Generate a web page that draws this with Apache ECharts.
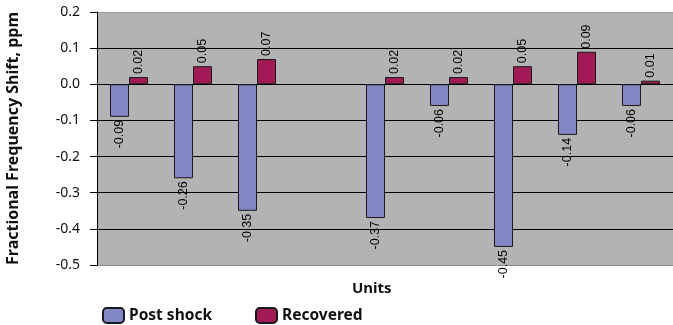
<!DOCTYPE html>
<html>
<head>
<meta charset="utf-8">
<script src="https://cdn.jsdelivr.net/npm/echarts@6/dist/echarts.min.js"></script>
<style>
  html, body { margin: 0; padding: 0; background: #fff; }
  #chart { width: 673px; height: 325px; }
</style>
</head>
<body>
<div id="chart"></div>
<script>
// Units under test (slot 4 is an empty position)
const units = ['1', '2', '3', '4', '5', '6', '7', '8', '9'];
// Fractional frequency shift, ppm
const postShock = [-0.09, -0.26, -0.35, null, -0.37, -0.06, -0.45, -0.14, -0.06];
const recovered = [0.02, 0.05, 0.07, null, 0.02, 0.02, 0.05, 0.09, 0.01];
const yTicks = { min: -0.5, max: 0.2, step: 0.1 };

const labelFont = { fontFamily: 'Liberation Sans', fontSize: 12.5, color: '#000' };

function withLabels(values) {
  return values.map(v => {
    if (v === null) return null;
    const up = v >= 0;
    return {
      value: v,
      label: Object.assign({
        show: true,
        position: up ? 'top' : 'bottom',
        rotate: 90,
        align: up ? 'left' : 'right',
        verticalAlign: 'middle',
        distance: 3,
        formatter: p => p.value.toFixed(2)
      }, labelFont)
    };
  });
}

const chart = echarts.init(document.getElementById('chart'));
chart.setOption({
  animation: false,
  textStyle: { fontFamily: 'Noto Sans' },
  grid: {
    left: 97, right: 0, top: 12, bottom: 60,
    outerBoundsMode: 'none',
    containLabel: false,
    show: true, backgroundColor: '#b3b3b3', borderWidth: 0
  },
  legend: {
    left: 97, top: 302,
    itemWidth: 21, itemHeight: 15, itemGap: 43,
    textStyle: { fontFamily: 'Noto Sans', fontWeight: 'bold', fontSize: 15.5, color: '#111' },
    data: ['Post shock', 'Recovered']
  },
  xAxis: {
    type: 'category',
    data: units,
    axisLine: { show: false },
    axisTick: { show: false },
    axisLabel: { show: false },
    splitLine: { show: false }
  },
  yAxis: {
    type: 'value',
    min: yTicks.min, max: yTicks.max, interval: yTicks.step,
    name: 'Fractional Frequency Shift, ppm',
    nameLocation: 'middle',
    nameGap: 76,
    nameTextStyle: { fontFamily: 'Noto Sans', fontWeight: 'bold', fontSize: 16, color: '#111' },
    axisLine: { show: true, lineStyle: { color: '#000', width: 1 } },
    axisTick: { show: true, length: 7, lineStyle: { color: '#000' } },
    axisLabel: {
      fontFamily: 'Noto Sans', fontSize: 14, color: '#111', margin: 17,
      formatter: v => v.toFixed(1)
    },
    splitLine: {
      show: true,
      lineStyle: { color: ['#8a8a8a', '#000', '#000', '#000', '#000', '#000', '#000', '#9a9a9a'], width: 1 }
    }
  },
  graphic: [{
    type: 'text',
    left: 352, top: 281,
    style: { text: 'Units', fontFamily: 'Noto Sans', fontWeight: 'bold', fontSize: 15, fill: '#111' }
  }],
  series: [
    {
      name: 'Post shock', type: 'bar',
      data: withLabels(postShock),
      barWidth: 19, barGap: '0%',
      itemStyle: { color: '#8286c4', borderColor: '#1a1a1a', borderWidth: 1 }
    },
    {
      name: 'Recovered', type: 'bar',
      data: withLabels(recovered),
      barWidth: 19,
      itemStyle: { color: '#a01a55', borderColor: '#1a1a1a', borderWidth: 1 }
    }
  ]
});
</script>
</body>
</html>
